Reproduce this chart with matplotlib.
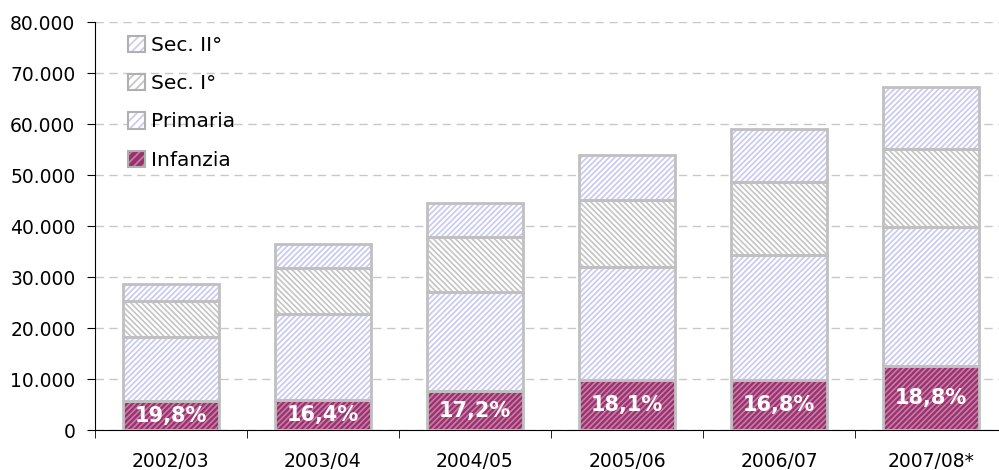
import numpy as np
import matplotlib
matplotlib.use("Agg")
from matplotlib import pyplot as plt
from matplotlib.patches import Patch
from matplotlib.ticker import FuncFormatter

years = ['2002/03', '2003/04', '2004/05', '2005/06', '2006/07', '2007/08*']
infanzia = [5680, 5990, 7650, 9760, 9910, 12650]
primaria = [12500, 16700, 19450, 22250, 24400, 27250]
sec_1 = [7100, 9100, 10700, 13100, 14300, 15300]
sec_2 = [3400, 4700, 6700, 8800, 10400, 12100]
pct_labels = ['19,8%', '16,4%', '17,2%', '18,1%', '16,8%', '18,8%']

plt.rcParams['font.family'] = ['DejaVu Sans']
plt.rcParams['hatch.linewidth'] = 1.2

# serie: nome, valori, colore di fondo, colore tratteggio, tratteggio
series = [
    ('Infanzia', infanzia, '#993366', '#c77bb0', '//////'),
    ('Primaria', primaria, 'white', '#c8c8f4', '//////'),
    ('Sec. I°', sec_1, 'white', '#c4c4c4', '\\\\\\\\\\\\'),
    ('Sec. II°', sec_2, 'white', '#c8c8f4', '//////'),
]

fig = plt.figure(figsize=(9.99, 4.7), dpi=100)
# l'asse x prosegue oltre il bordo destro, come nell'originale
ax = fig.add_axes([0.095, 0.085, 0.913, 0.868])

x = np.arange(len(years))
width = 0.63
bottom = np.zeros(len(years))
handles = []
for name, vals, face, hcol, hatch in series:
    vals = np.array(vals)
    ax.bar(x, vals, width, bottom=bottom, color=face, edgecolor=hcol,
           hatch=hatch, linewidth=0, zorder=2)
    ax.bar(x, vals, width, bottom=bottom, fill=False, edgecolor='#c0c0c0',
           linewidth=2, zorder=3)
    handles.append((Patch(facecolor=face, edgecolor=hcol, hatch='////', linewidth=0),
                    Patch(fill=False, edgecolor='#b0b0b0', linewidth=1.5)))
    bottom += vals

for i, lab in enumerate(pct_labels):
    ax.text(x[i], infanzia[i] / 2, lab, ha='center', va='center',
            color='white', fontsize=15, fontweight='bold', zorder=4)

ax.set_ylim(0, 80000)
ax.set_xlim(-0.5, len(years) - 0.5)
ax.set_yticks(np.arange(0, 80001, 10000))
ax.yaxis.set_major_formatter(FuncFormatter(lambda v, p: f'{int(v):,}'.replace(',', '.')))
ax.yaxis.grid(True, linestyle=(0, (6, 4)), color='#c8c8c8', linewidth=1, zorder=0)
ax.set_axisbelow(True)

ax.set_xticks(x)
ax.set_xticklabels(years)
ax.set_xticks(np.arange(-0.5, len(years)), minor=True)
ax.tick_params(axis='x', which='major', length=0, pad=16, labelsize=13.5)
ax.tick_params(axis='x', which='minor', length=6, direction='out', color='black')
ax.tick_params(axis='y', length=6, direction='out', labelsize=13.5, pad=8)

for s in ['top', 'right']:
    ax.spines[s].set_visible(False)
ax.spines['left'].set_color('black')
ax.spines['bottom'].set_color('black')

leg = ax.legend(handles[::-1], [s[0] for s in series][::-1], loc='upper left',
                bbox_to_anchor=(0.021, 1.0), frameon=False, fontsize=14.5,
                handlelength=0.85, handleheight=0.85, handletextpad=0.3,
                labelspacing=0.95, borderaxespad=0.3)

plt.savefig('out.png', dpi=100)
